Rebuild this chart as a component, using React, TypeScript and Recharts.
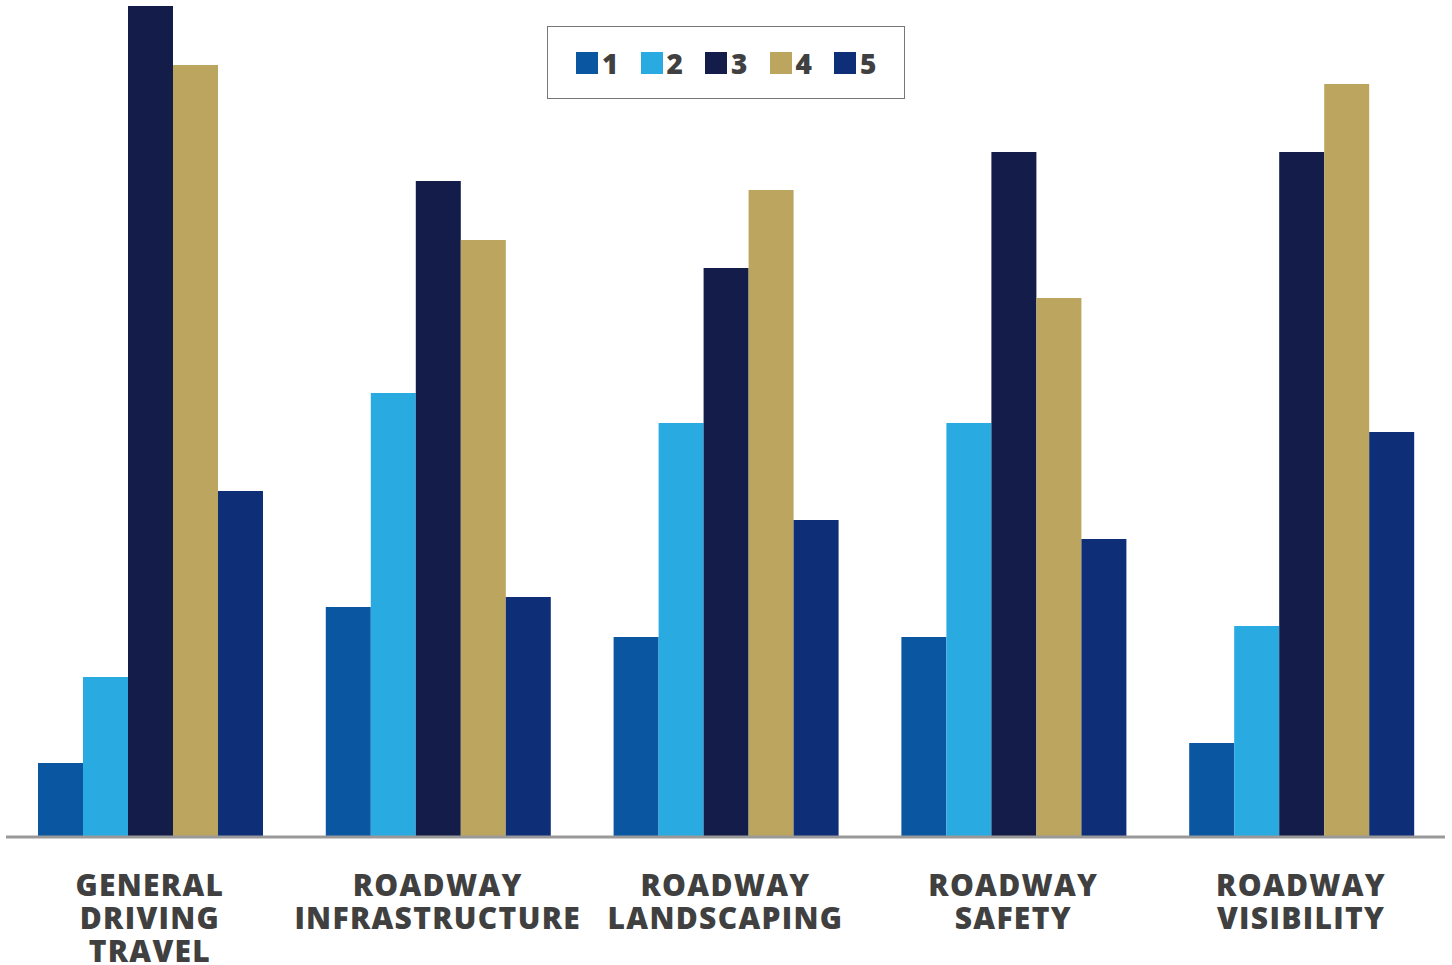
import { Bar, BarChart, Legend, XAxis, YAxis } from "recharts";

const categories = [
  ["GENERAL", "DRIVING", "TRAVEL"],
  ["ROADWAY", "INFRASTRUCTURE"],
  ["ROADWAY", "LANDSCAPING"],
  ["ROADWAY", "SAFETY"],
  ["ROADWAY", "VISIBILITY"],
];

const rating1 = [74, 230, 200, 200, 94];
const rating2 = [160, 444, 414, 414, 211];
const rating3 = [831, 656, 569, 685, 685];
const rating4 = [772, 597, 647, 539, 753];
const rating5 = [346, 240, 317, 298, 405];

const seriesNames = ["1", "2", "3", "4", "5"];
const seriesColors = ["#0b56a0", "#29abe2", "#141c4a", "#bca55e", "#0f2e78"];

const data = categories.map((lines, i) => ({
  name: lines.join(" "),
  lines,
  s1: rating1[i],
  s2: rating2[i],
  s3: rating3[i],
  s4: rating4[i],
  s5: rating5[i],
}));

const labelFont = "'Open Sans', 'DejaVu Sans', sans-serif";

function CategoryTick({ x, y, payload }: any) {
  const lines = categories[payload.index] ?? [];
  return (
    <text
      x={x}
      y={y + 51}
      textAnchor="middle"
      fill="#404040"
      fontFamily={labelFont}
      fontWeight={800}
      fontSize={30}
      letterSpacing={1.3}
    >
      {lines.map((line, i) => (
        <tspan key={line + i} x={x} dy={i === 0 ? 0 : 33}>
          {line}
        </tspan>
      ))}
    </text>
  );
}

function BoxLegend() {
  return (
    <div
      style={{
        width: 358,
        height: 73,
        border: "1px solid #777",
        background: "#fff",
        display: "flex",
        alignItems: "center",
        paddingLeft: 28,
        boxSizing: "border-box",
      }}
    >
      {seriesNames.map((name, i) => (
        <div key={name} style={{ display: "flex", alignItems: "center", width: 64.5 }}>
          <span style={{ width: 22, height: 22, background: seriesColors[i], display: "inline-block" }} />
          <span
            style={{
              marginLeft: 4,
              fontFamily: labelFont,
              fontWeight: 800,
              fontSize: 28,
              color: "#404040",
              lineHeight: "22px",
            }}
          >
            {name}
          </span>
        </div>
      ))}
    </div>
  );
}

export default function App() {
  return (
    <div style={{ position: "absolute", left: 0, top: 0, background: "#fff" }}>
      <BarChart
        width={1452}
        height={965}
        data={data}
        margin={{ top: 6, right: 7, left: 6, bottom: 0 }}
        barCategoryGap={32}
        barGap={0}
      >
        <XAxis
          dataKey="name"
          height={128}
          interval={0}
          tickLine={false}
          axisLine={{ stroke: "#999", strokeWidth: 3 }}
          tick={<CategoryTick />}
        />
        <YAxis hide domain={[0, 831]} />
        <Legend
          layout="horizontal"
          verticalAlign="middle"
          align="center"
          content={<BoxLegend />}
          wrapperStyle={{ position: "absolute", left: 547, top: 26, width: 358 }}
        />
        {seriesNames.map((name, i) => (
          <Bar
            key={name}
            dataKey={`s${i + 1}`}
            name={name}
            fill={seriesColors[i]}
            isAnimationActive={false}
          />
        ))}
      </BarChart>
    </div>
  );
}
